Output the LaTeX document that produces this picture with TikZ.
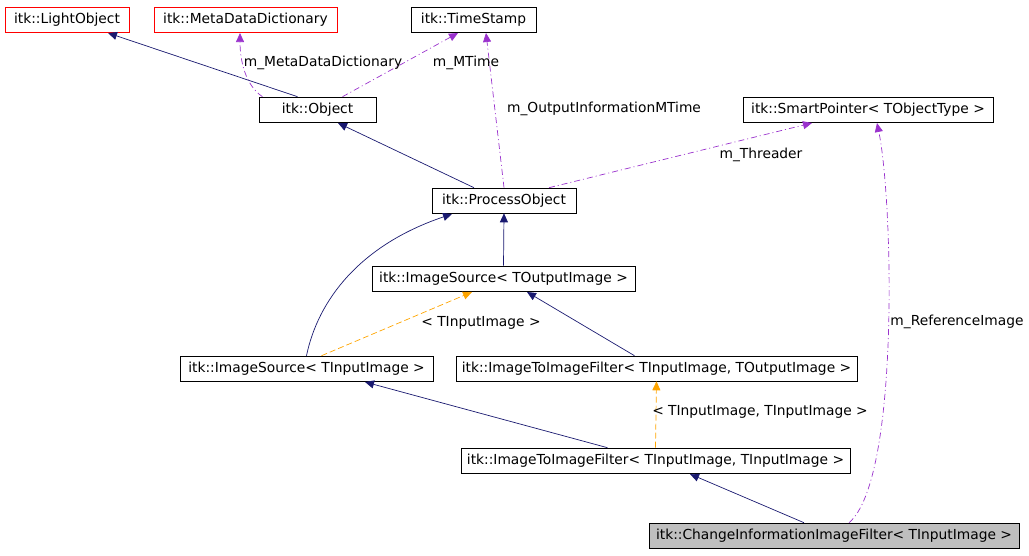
\documentclass[tikz,border=0pt]{standalone}
\usepackage{fontspec}
\setmainfont{DejaVu Sans}
\usetikzlibrary{arrows.meta}
\definecolor{inh}{HTML}{191970}
\definecolor{use}{HTML}{9A32CD}
\definecolor{tpl}{HTML}{FFA500}
\begin{document}
\begin{tikzpicture}[x=1pt,y=-1pt,
  box/.style={draw=black,line width=0.6pt,minimum height=25pt,inner sep=0pt,font=\fontsize{13.8}{15}\selectfont},
  red/.style={box,draw=red},
  inh/.style={draw=inh,line width=0.7pt,-{Triangle[length=9pt,width=8pt]}},
  use/.style={draw=use,line width=0.7pt,dash pattern=on 6pt off 3pt on 1pt off 3pt,-{Triangle[length=9pt,width=8pt]}},
  tpl/.style={draw=tpl,line width=0.7pt,dash pattern=on 6pt off 3pt,-{Triangle[length=9pt,width=8pt]}},
  lbl/.style={font=\fontsize{13.8}{15}\selectfont,inner sep=1pt}]
\useasboundingbox (0,0) rectangle (1029,555);
\node[red,minimum width=124pt] (lo) at (67,19.5) {itk::LightObject};
\node[red,minimum width=183pt] (md) at (245.5,19.5) {itk::MetaDataDictionary};
\node[box,minimum width=125pt] (ts) at (473.5,19.5) {itk::TimeStamp};
\node[box,minimum width=117pt] (ob) at (317.5,109.5) {itk::Object};
\node[box,minimum width=250pt] (sp) at (868,109.5) {itk::SmartPointer< TObjectType >};
\node[box,minimum width=144pt] (po) at (504,200.5) {itk::ProcessObject};
\node[box,minimum width=263pt] (iso) at (503.5,278.5) {itk::ImageSource< TOutputImage >};
\node[box,minimum width=253pt] (isi) at (306.5,368.5) {itk::ImageSource< TInputImage >};
\node[box,minimum width=401pt] (ito) at (656.5,368.5) {itk::ImageToImageFilter< TInputImage, TOutputImage >};
\node[box,minimum width=389pt] (iti) at (655.5,460.5) {itk::ImageToImageFilter< TInputImage, TInputImage >};
\node[box,fill=black!25,minimum width=370pt] (ch) at (834,535.5) {itk::ChangeInformationImageFilter< TInputImage >};
\draw[inh] (ob.north) ++(-20,0) -- (108,33);
\draw[inh] (po.north) ++(-30,0) -- (338,123);
\draw[inh] (iso.north) -- (po.south);
\draw[inh] (isi.north) .. controls (318,300) and (360,245) .. (452,214);
\draw[inh] (ito.north) ++(-22,0) -- (527,292);
\draw[inh] (iti.north) ++(-48,0) -- (365,382);
\draw[inh] (ch.north) ++(-30,0) -- (690,474);
\draw[use] (ob.north) ++(-55,0) .. controls (245,85) and (240,60) .. (240,33);
\draw[use] (ob.north) ++(25,0) -- (458,33);
\draw[use] (po.north) -- (486,33);
\draw[use] (po.north) ++(45,0) -- (812,123);
\draw[use] (ch.north) ++(15,0) .. controls (900,480) and (893,200) .. (877,123);
\draw[tpl] (isi.north) ++(15,0) -- (472,292);
\draw[tpl] (iti.north) -- (ito.south);
\node[lbl] at (323,63) {m\_MetaDataDictionary};
\node[lbl] at (466,63) {m\_MTime};
\node[lbl] at (604,109) {m\_OutputInformationMTime};
\node[lbl] at (761,155) {m\_Threader};
\node[lbl] at (957,322) {m\_ReferenceImage};
\node[lbl] at (481,323) {< TInputImage >};
\node[lbl] at (760,412) {< TInputImage, TInputImage >};
\end{tikzpicture}
\end{document}
